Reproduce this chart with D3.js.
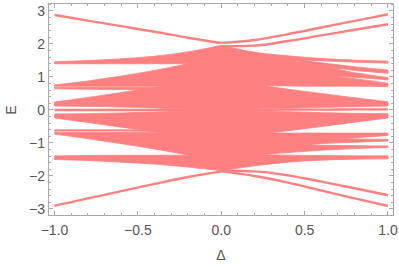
<!DOCTYPE html>
<html><head><meta charset="utf-8">
<script src="https://cdn.jsdelivr.net/npm/d3@7"></script>
<style>body{margin:0;background:#fff}svg{display:block}text{font-family:"Liberation Sans",Arial,sans-serif}</style>
</head><body><div id="chart"></div>
<script>
// sample grids (Δ) for the two halves of the spectrum
const deltaLeft=[-1,-0.8,-0.6,-0.4,-0.2,0];
const deltaRight=[0,0.2,0.4,0.6,0.8,1];

// single levels, left half
const topL=[2.88,2.71,2.54,2.37,2.19,2.03];
const botL=[-2.90,-2.68,-2.46,-2.24,-2.03,-1.86];
const zeroL=[0,0,0,0,0,0];
// single levels, right half
const topR1=[2.03,2.12,2.30,2.50,2.70,2.90];
const topR2=[1.93,1.95,2.09,2.26,2.43,2.60];
const botR1=[-1.86,-2.00,-2.20,-2.44,-2.68,-2.91];
const botR2=[-1.84,-1.86,-1.98,-2.17,-2.37,-2.58];
const zeroR=[0,0,0.01,0.01,0.02,0.02];

// dense bands, left half (upper edge, lower edge)
const aHi=[1.46,1.50,1.55,1.63,1.76,1.96], aLo=[1.40,1.40,1.40,1.40,1.40,1.40];
const b1Hi=[0.76,0.88,1.03,1.20,1.40,1.62], b1Lo=[0.72,0.72,0.72,0.72,0.72,0.72];
const b2Hi=[0.69,0.69,0.69,0.69,0.71,0.75], b2Lo=[0.64,0.63,0.62,0.61,0.60,0.60];
const cHi=[0.24,0.38,0.53,0.68,0.85,1.00], cLo=[0.12,0.11,0.09,0.06,0.03,0.02];
const dHi=[-0.12,-0.11,-0.09,-0.06,-0.03,-0.02], dLo=[-0.24,-0.38,-0.52,-0.66,-0.82,-0.98];
const e1Hi=[-0.60,-0.60,-0.60,-0.60,-0.60,-0.60], e1Lo=[-0.64,-0.64,-0.64,-0.65,-0.67,-0.72];
const e2Hi=[-0.68,-0.68,-0.68,-0.68,-0.66,-0.62], e2Lo=[-0.73,-0.87,-1.02,-1.18,-1.36,-1.55];
const fHi=[-1.39,-1.38,-1.37,-1.37,-1.37,-1.37], fLo=[-1.50,-1.53,-1.58,-1.64,-1.73,-1.84];

// dense bands, right half
const gHi=[1.96,1.75,1.64,1.56,1.51,1.48], gLo=[1.40,1.45,1.52,1.49,1.45,1.42];
const hHi=[1.70,1.60,1.55,1.43,1.31,1.21], hLo=[1.20,1.25,1.30,1.30,1.20,1.11];
const iHi=[1.40,1.40,1.36,1.32,1.13,0.98], iLo=[0.90,0.95,1.00,1.02,0.99,0.91];
const jHi=[1.20,1.15,1.10,1.05,0.95,0.81], jLo=[0.76,0.74,0.73,0.72,0.72,0.71];
const kHi=[0.98,0.78,0.63,0.50,0.37,0.25], kLo=[0.02,0.03,0.05,0.08,0.10,0.12];
const lHi=[-0.02,-0.03,-0.05,-0.08,-0.10,-0.11], lLo=[-0.98,-0.76,-0.63,-0.50,-0.37,-0.24];
const mHi=[-0.70,-0.70,-0.70,-0.70,-0.70,-0.70], mLo=[-1.20,-1.10,-1.00,-0.92,-0.84,-0.77];
const nHi=[-0.70,-0.75,-0.80,-0.85,-0.88,-0.89], nLo=[-1.40,-1.30,-1.15,-1.02,-0.98,-0.94];
const oHi=[-0.95,-1.00,-1.05,-1.07,-1.08,-1.09], oLo=[-1.60,-1.38,-1.29,-1.22,-1.17,-1.13];
const pHi=[-1.25,-1.34,-1.37,-1.38,-1.39,-1.39], pLo=[-1.84,-1.69,-1.58,-1.52,-1.49,-1.48];

const xTicks=[-1,-0.5,0,0.5,1];
const yTicks=[-3,-2,-1,0,1,2,3];

const width=399,height=267,col='#ff8080';
const svg=d3.select('#chart').append('svg').attr('width',width).attr('height',height);
const x=d3.scaleLinear().domain([-1.036,1.033]).range([48.5,393.5]);
const y=d3.scaleLinear().domain([-3.197,3.227]).range([215.5,3.5]);

const bands=[
  [deltaLeft,aHi,aLo],[deltaLeft,b1Hi,b1Lo],[deltaLeft,b2Hi,b2Lo],[deltaLeft,cHi,cLo],
  [deltaLeft,dHi,dLo],[deltaLeft,e1Hi,e1Lo],[deltaLeft,e2Hi,e2Lo],[deltaLeft,fHi,fLo],
  [deltaRight,gHi,gLo],[deltaRight,hHi,hLo],[deltaRight,iHi,iLo],[deltaRight,jHi,jLo],
  [deltaRight,kHi,kLo],[deltaRight,lHi,lLo],[deltaRight,mHi,mLo],[deltaRight,nHi,nLo],
  [deltaRight,oHi,oLo],[deltaRight,pHi,pLo]];
const lines=[[deltaLeft,topL],[deltaLeft,botL],[deltaLeft,zeroL],
  [deltaRight,topR1],[deltaRight,topR2],[deltaRight,botR1],[deltaRight,botR2],[deltaRight,zeroR]];

const area=d3.area().curve(d3.curveMonotoneX).x(d=>x(d[0])).y0(d=>y(d[2])).y1(d=>y(d[1]));
const line=d3.line().curve(d3.curveMonotoneX).x(d=>x(d[0])).y(d=>y(d[1]));

const plot=svg.append('g');
bands.forEach(b=>{
  let pts=b[0].map((d,i)=>[d,b[1][i],b[2][i]]);
  plot.append('path').attr('d',area(pts)).attr('fill',col).attr('stroke',col).attr('stroke-width',0.8);
});
lines.forEach(l=>{
  let pts=l[0].map((d,i)=>[d,l[1][i]]);
  plot.append('path').attr('d',line(pts)).attr('fill','none').attr('stroke',col).attr('stroke-width',2.4);
});

// frame with ticks on all sides
const frameCol='#aaaaaa';
const fr=svg.append('g').attr('stroke',frameCol).attr('shape-rendering','crispEdges');
fr.append('rect').attr('x',48.5).attr('y',3.5).attr('width',345).attr('height',212).attr('fill','none');
d3.range(-10,11).forEach(k=>{
  let v=k/10,len=(k%5==0)?4.5:2.5;
  fr.append('line').attr('x1',x(v)).attr('x2',x(v)).attr('y1',215.5).attr('y2',215.5-len);
  fr.append('line').attr('x1',x(v)).attr('x2',x(v)).attr('y1',3.5).attr('y2',3.5+len);
});
d3.range(-15,17).forEach(k=>{
  let v=k/5,len=(k%5==0)?4.5:2.5;
  if(v<-3.19||v>3.22)return;
  fr.append('line').attr('y1',y(v)).attr('y2',y(v)).attr('x1',48.5).attr('x2',48.5+len);
  fr.append('line').attr('y1',y(v)).attr('y2',y(v)).attr('x1',393.5).attr('x2',393.5-len);
});

const lab='#555555',fmt=d3.format('.1f');
svg.selectAll('.xl').data(xTicks).enter().append('text')
  .attr('x',d=>x(d)).attr('y',235).attr('text-anchor','middle')
  .attr('font-size',14).attr('fill',lab).text(d=>fmt(d));
svg.selectAll('.yl').data(yTicks).enter().append('text')
  .attr('x',45).attr('y',d=>y(d)+5).attr('text-anchor','end')
  .attr('font-size',14).attr('fill',lab).text(d=>d3.format('d')(d));
svg.append('text').attr('x',221).attr('y',260).attr('text-anchor','middle')
  .attr('font-size',14).attr('fill',lab).text('Δ');
svg.append('text').attr('transform','translate(16,110) rotate(-90)').attr('text-anchor','middle')
  .attr('font-size',14).attr('fill',lab).text('E');
</script></body></html>
